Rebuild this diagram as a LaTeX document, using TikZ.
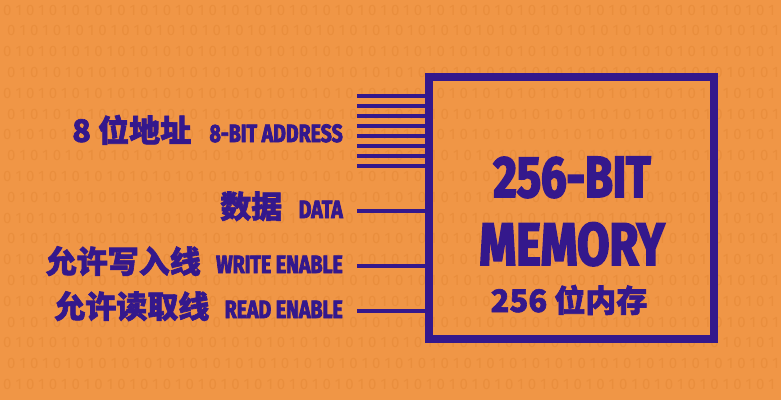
\documentclass[tikz,border=0pt]{standalone}
\usepackage{fontspec}
\newfontfamily\condfont[FakeStretch=0.78,BoldFeatures={FakeBold=3}]{Fira Sans}
\newfontfamily\cjk[BoldFeatures={FakeBold=2}]{Noto Sans CJK SC}
\newfontfamily\digitfont{Fira Sans}
\usetikzlibrary{positioning}
\definecolor{bgorange}{RGB}{240,150,70}
\definecolor{faint}{RGB}{233,142,61}
\definecolor{ink}{RGB}{52,24,140}

\begin{document}
\begin{tikzpicture}[x=1pt,y=-1pt,
  en/.style={inner sep=0pt,text=ink,font=\condfont\bfseries\fontsize{25}{25}\selectfont},
  cn/.style={inner sep=0pt,text=ink,font=\cjk\bfseries\fontsize{31}{31}\selectfont},
  big/.style={inner sep=0pt,text=ink,font=\condfont\bfseries\fontsize{58}{58}\selectfont},
  bits/.style={inner sep=0pt,anchor=west,text=faint,font=\digitfont\fontsize{15}{15}\selectfont},
  wire/.style={draw=ink,line width=4pt}]
\fill[bgorange] (0,0) rectangle (781,400);
\foreach \j in {0,...,18} {
  \node[bits] (t\j) at ({3+4*mod(\j,2)},{10+20.8*\j}) {0 1 0 1 0 1 0 1 0 1 0 1 0 1 0 1 0 1 0 1 0 1 0 1 0 1 0 1 0 1 0 1 0 1 0 1 0 1 0 1 0 1 0 1 0 1 0 1 0 1 0 1 0 1 0 1 0 1 0 1 0 1 0 1 0 1 0 1};
}
\node[draw=ink,line width=8pt,minimum width=285pt,minimum height=262pt,inner sep=0pt] (M) at (571.5,208) {};
\node[big,anchor=base] (B) at (572,197) {256-BIT};
\node[big,anchor=base,font=\condfont\bfseries\fontsize{60}{60}\selectfont] (Y) at (572,265) {MEMORY};
\node[cn,anchor=base] (N) at (569,312) {256 位内存};
\foreach \i in {0,...,7} {
  \coordinate (a\i) at (357,96+10*\i);
  \draw[wire] (a\i) -- (a\i -| M.west);
}
\coordinate (d) at (357,211);
\coordinate (w) at (357,266);
\coordinate (r) at (357,311);
\draw[wire] (d) -- (d -| M.west);
\draw[wire] (w) -- (w -| M.west);
\draw[wire] (r) -- (r -| M.west);
\node[en,anchor=base east] (AE) at (343,142) {8-BIT ADDRESS};
\node[cn,base left=18pt of AE] (AC) {8 位地址};
\node[en,anchor=base east] (DE) at (343,218) {DATA};
\node[cn,base left=16pt of DE] (DC) {数据};
\node[en,anchor=base east] (WE) at (343,273) {WRITE ENABLE};
\node[cn,base left=15pt of WE] (WC) {允许写入线};
\node[en,anchor=base east] (RE) at (343,318) {READ ENABLE};
\node[cn,base left=15pt of RE] (RC) {允许读取线};
\end{tikzpicture}
\end{document}
